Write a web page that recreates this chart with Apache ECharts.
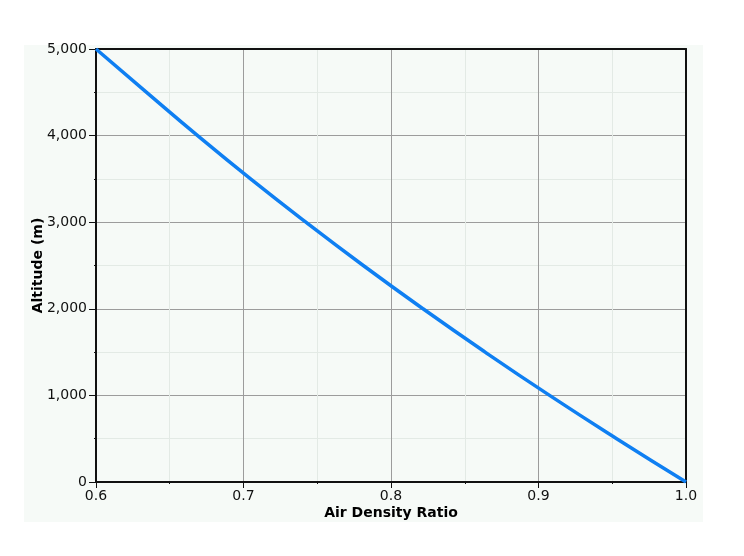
<!DOCTYPE html>
<html>
<head>
    <meta charset="utf-8">
    <title>Air Density Ratio</title>
    <script src="https://cdn.jsdelivr.net/npm/echarts@6/dist/echarts.min.js"></script>
    <style>
        html, body { margin: 0; padding: 0; background: #ffffff; }
        #chart { width: 744px; height: 556px; }
    </style>
</head>
<body>
<div id="chart"></div>
<script>
    // altitude (m) and matching air density ratio
    var altitude = [0, 500, 1000, 1500, 2000, 2500, 3000, 3500, 4000, 4500, 5000];
    var densityRatio = [1.0, 0.953, 0.9075, 0.8638, 0.8217, 0.7812, 0.7423, 0.7048, 0.6689, 0.6343, 0.6];

    var points = [];
    for (var i = 0; i < altitude.length; i++) {
        points.push([densityRatio[i], altitude[i]]);
    }

    var labelFont = {fontFamily: 'DejaVu Sans', fontSize: 14, color: '#111'};
    var titleFont = {fontFamily: 'DejaVu Sans', fontWeight: 'bold', fontSize: 14, color: '#000'};

    // plain black frame on the top and right sides
    var frameAxis = {
        type: 'value',
        axisLine: {show: true, onZero: false, lineStyle: {color: '#111', width: 2}},
        axisTick: {show: false},
        axisLabel: {show: false},
        splitLine: {show: false}
    };

    var chart = echarts.init(document.getElementById('chart'));
    var option = {
        animation: false,
        backgroundColor: '#ffffff',
        graphic: [{
            type: 'rect',
            z: -10,
            silent: true,
            shape: {x: 24, y: 45, width: 679, height: 477},
            style: {fill: '#f6faf7'}
        }],
        grid: {
            left: 96,
            right: 58,
            top: 49,
            bottom: 74,
            show: true,
            backgroundColor: '#f6faf7',
            borderWidth: 0
        },
        xAxis: [{
            type: 'value',
            min: 0.6,
            max: 1.0,
            interval: 0.1,
            name: 'Air Density Ratio',
            nameLocation: 'middle',
            nameGap: 24,
            nameMoveOverlap: false,
            nameTextStyle: titleFont,
            axisLine: {onZero: false, lineStyle: {color: '#111', width: 2}},
            axisTick: {length: 6, lineStyle: {color: '#111'}},
            minorTick: {show: true, splitNumber: 2, length: 2, lineStyle: {color: '#111'}},
            axisLabel: {
                fontFamily: labelFont.fontFamily, fontSize: labelFont.fontSize, color: labelFont.color,
                margin: 7,
                formatter: function (v) { return v.toFixed(1); }
            },
            splitLine: {lineStyle: {color: '#9c9c9c', width: 1}},
            minorSplitLine: {show: true, lineStyle: {color: '#e3eae5', width: 1}}
        }, Object.assign({position: 'top', min: 0.6, max: 1.0}, frameAxis)],
        yAxis: [{
            type: 'value',
            min: 0,
            max: 5000,
            interval: 1000,
            name: 'Altitude (m)',
            nameLocation: 'middle',
            nameGap: 51,
            nameMoveOverlap: false,
            nameTextStyle: titleFont,
            axisLine: {show: true, onZero: false, lineStyle: {color: '#111', width: 2}},
            axisTick: {show: true, length: 7, lineStyle: {color: '#111'}},
            minorTick: {show: true, splitNumber: 2, length: 2, lineStyle: {color: '#111'}},
            axisLabel: {
                fontFamily: labelFont.fontFamily, fontSize: labelFont.fontSize, color: labelFont.color,
                margin: 9,
                formatter: function (v) { return v.toLocaleString('en-US'); }
            },
            splitLine: {lineStyle: {color: '#9c9c9c', width: 1}},
            minorSplitLine: {show: true, lineStyle: {color: '#e3eae5', width: 1}}
        }, Object.assign({position: 'right', min: 0, max: 5000}, frameAxis)],
        series: [{
            type: 'line',
            data: points,
            smooth: true,
            showSymbol: false,
            lineStyle: {color: '#0f7ff2', width: 3.5}
        }]
    };
    chart.setOption(option);
    window.onresize = function () {
        chart.resize();
    };
</script>
</body>
</html>
